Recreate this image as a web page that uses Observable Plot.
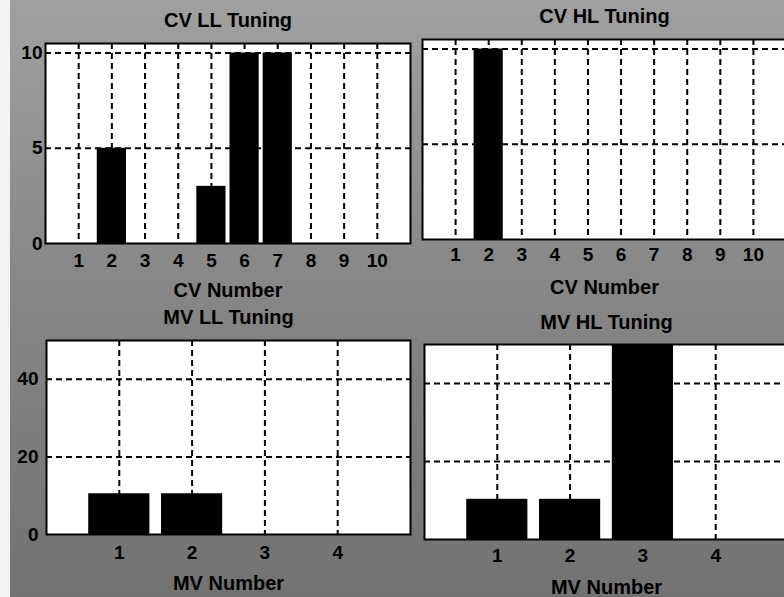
<!DOCTYPE html>
<html>
<head>
<meta charset="utf-8">
<script src="https://cdn.jsdelivr.net/npm/d3@7"></script>
<script src="https://cdn.jsdelivr.net/npm/@observablehq/plot@0.6"></script>
<style>
  html, body { margin: 0; padding: 0; }
  body {
    width: 784px; height: 597px; overflow: hidden; position: relative;
    background: linear-gradient(to bottom, #a0a0a0 0%, #888888 45%, #727272 100%);
  }
  #strip { position: absolute; left: 0; top: 0; width: 10px; height: 597px; background: #f2f2f2; }
  .panel { position: absolute; }
</style>
</head>
<body>
<div id="strip"></div>
<div class="panel" id="p1" style="left:0px;top:0px;width:415px;"></div>
<div class="panel" id="p2" style="left:412px;top:0px;width:374px;"></div>
<div class="panel" id="p3" style="left:0px;top:300px;width:415px;"></div>
<div class="panel" id="p4" style="left:414px;top:300px;width:374px;"></div>
<script>
// ---- data ----
const cvNumbers = [1, 2, 3, 4, 5, 6, 7, 8, 9, 10];
const cvLL = [0, 5, 0, 0, 3, 10, 10, 0, 0, 0];
const cvHL = [0, 10, 0, 0, 0, 0, 0, 0, 0, 0];
const mvNumbers = [1, 2, 3, 4];
const mvLL = [10.5, 10.5, 0, 0];
const mvHL = [10.3, 10.3, 50, 0];
const cvYTicks = [0, 5, 10];
const mvYTicks = [0, 20, 40];
const titles = ["CV LL Tuning", "CV HL Tuning", "MV LL Tuning", "MV HL Tuning"];
const xLabels = ["CV Number", "CV Number", "MV Number", "MV Number"];

const font = "'Liberation Sans', Arial, Helvetica, sans-serif";

function panel(cfg) {
  const data = cfg.cats.map((c, i) => ({c, v: cfg.values[i]}));
  const dash = {stroke: "black", strokeWidth: 2, strokeDasharray: "6,4"};
  const marks = [
    Plot.frame({fill: "white", stroke: null}),
    Plot.ruleX(cfg.cats, {x: d => d, ...dash}),
    Plot.ruleY(cfg.yTicks.filter(t => t > 0), {y: d => d, ...dash}),
    Plot.rectY(data.filter(d => d.v > 0), {
      x1: d => d.c - cfg.bw / 2, x2: d => d.c + cfg.bw / 2, y1: 0, y2: "v", fill: "black"
    }),
    Plot.frame({stroke: "black", strokeWidth: 2}),
    Plot.axisX(cfg.cats, {tickSize: 0, tickPadding: cfg.xPad, label: null, fontSize: 19, fontWeight: "bold"}),
    Plot.text([cfg.title], {frameAnchor: "top", lineAnchor: "middle", dy: cfg.titleDy, fontSize: 20, fontWeight: "bold", fill: "black"}),
    Plot.text([cfg.xLabel], {frameAnchor: "bottom", lineAnchor: "middle", dy: cfg.labelDy, fontSize: 20, fontWeight: "bold", fill: "black"})
  ];
  if (cfg.showY) {
    marks.push(Plot.axisY(cfg.yTicks, {tickSize: 0, tickPadding: cfg.yPad, label: null, fontSize: 19, fontWeight: "bold"}));
  }
  return Plot.plot({
    width: cfg.width, height: cfg.height,
    marginLeft: cfg.ml, marginRight: cfg.mr, marginTop: cfg.mt, marginBottom: cfg.mb,
    style: {background: "transparent", fontFamily: font, fontSize: "19px", fontWeight: "bold", color: "black", overflow: "visible"},
    x: {domain: cfg.xDomain, axis: null},
    y: {domain: cfg.yDomain, axis: null},
    marks
  });
}

document.getElementById("p1").append(panel({
  cats: cvNumbers, values: cvLL, yTicks: cvYTicks, title: titles[0], xLabel: xLabels[0],
  width: 415, height: 300, ml: 45, mr: 5, mt: 43, mb: 57,
  xDomain: [0, 11], yDomain: [0, 10.5], bw: 0.88, showY: true,
  xPad: 10, yPad: 3, titleDy: -23, labelDy: 47
}));
document.getElementById("p2").append(panel({
  cats: cvNumbers, values: cvHL, yTicks: cvYTicks, title: titles[1], xLabel: xLabels[1],
  width: 374, height: 300, ml: 10, mr: 0, mt: 39, mb: 61,
  xDomain: [0, 11], yDomain: [0, 10.5], bw: 0.88, showY: false,
  xPad: 8, yPad: 5, titleDy: -23, labelDy: 48
}));
document.getElementById("p3").append(panel({
  cats: mvNumbers, values: mvLL, yTicks: mvYTicks, title: titles[2], xLabel: xLabels[2],
  width: 415, height: 297, ml: 46, mr: 5, mt: 40, mb: 63,
  xDomain: [0, 5], yDomain: [0, 50], bw: 0.84, showY: true,
  xPad: 11, yPad: 8, titleDy: -23, labelDy: 49
}));
document.getElementById("p4").append(panel({
  cats: mvNumbers, values: mvHL, yTicks: mvYTicks, title: titles[3], xLabel: xLabels[3],
  width: 374, height: 297, ml: 10, mr: 0, mt: 44, mb: 58,
  xDomain: [0, 5], yDomain: [0, 50], bw: 0.84, showY: false,
  xPad: 9, yPad: 9, titleDy: -22, labelDy: 48
}));
</script>
</body>
</html>
